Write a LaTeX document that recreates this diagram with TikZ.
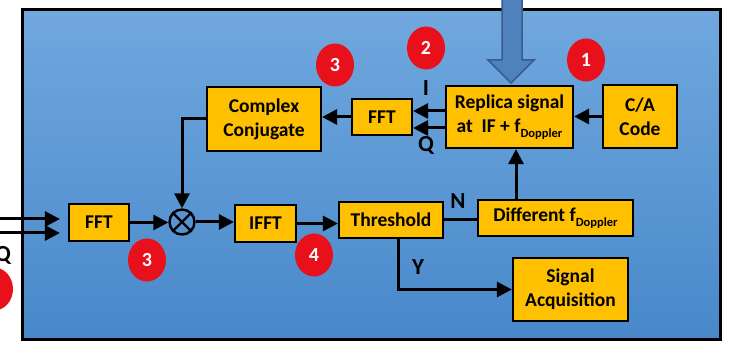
\documentclass[tikz,border=0pt]{standalone}
\usepackage{fontspec}
\setmainfont{Carlito}
\usetikzlibrary{arrows.meta,shapes.geometric}

\definecolor{boxyellow}{RGB}{255,192,0}
\definecolor{panelTop}{RGB}{112,168,222}
\definecolor{panelBot}{RGB}{72,136,202}
\definecolor{bigArrowFill}{RGB}{79,129,189}
\definecolor{bigArrowLine}{RGB}{56,93,138}
\definecolor{badgeRed}{RGB}{232,16,26}

\newcommand{\subD}{\raisebox{-5pt}{\fontsize{12.5}{12.5}\selectfont Doppler}}

\begin{document}
\begin{tikzpicture}[x=1pt,y=-1pt,
  box/.style={draw=black, line width=2.2pt, fill=boxyellow, inner sep=0pt,
    align=center, font=\fontsize{19.5}{24}\selectfont\bfseries},
  conn/.style={draw=black, line width=3pt},
  arr/.style={conn, -{Triangle[length=15pt,width=15pt]}},
  badge/.style={ellipse, fill=badgeRed, inner sep=0pt, minimum width=38pt,
    minimum height=43pt, text=white, font=\fontsize{20}{20}\selectfont\bfseries},
  lbl/.style={inner sep=0pt, font=\fontsize{23}{23}\selectfont\bfseries}]

% canvas
\fill[white] (0,0) rectangle (731,347);
\clip (0,0) rectangle (731,347);

% blue panel
\shade[top color=panelTop, bottom color=panelBot] (22,10) rectangle (720,340);
\draw[line width=3pt] (22,10) rectangle (720,340);

% incoming block arrow
\filldraw[fill=bigArrowFill, draw=bigArrowLine, line width=1.5pt]
  (502,-3) -- (522,-3) -- (522,60) -- (534,60) -- (511,83) -- (488,60) -- (502,60) -- cycle;

% blocks
\node[box, minimum width=114pt, minimum height=64pt] (cc)   at (264,119)   {Complex\\Conjugate};
\node[box, minimum width=60pt,  minimum height=36pt] (fft2) at (382,117)   {FFT};
\node[box, minimum width=127pt, minimum height=62pt] (rep)  at (509.5,117) {Replica signal\\at\ \ IF + f\subD};
\node[box, minimum width=74pt,  minimum height=63pt] (ca)   at (640,116.5) {C/A\\Code};
\node[box, minimum width=60pt,  minimum height=37pt] (fft1) at (99,222.5)  {FFT};
\node[box, minimum width=61pt,  minimum height=37pt] (ifft) at (265.5,223.5) {IFFT};
\node[box, minimum width=104pt, minimum height=36pt] (thr)  at (391,220)   {Threshold};
\node[box, minimum width=155pt, minimum height=36pt] (dif)  at (555.5,218) {Different f\subD};
\node[box, minimum width=115pt, minimum height=63pt] (sa)   at (570.5,289.5) {Signal\\Acquisition};

% multiplier
\node[circle, draw=black, line width=2.4pt, minimum size=25pt, inner sep=0pt] (mul) at (182,222) {};
\draw[line width=2.2pt] (mul.45) -- (mul.225) (mul.135) -- (mul.315);

% step badges
\node[badge] (b3a) at (335,65)  {3};
\node[badge] (b2)  at (426,48)  {2};
\node[badge] (b1)  at (586,60)  {1};
\node[badge] (b3b) at (147,260) {3};
\node[badge] (b4)  at (314,255) {4};
\node[badge] (b2l) at (-6,289)  {};

% helper coordinates
\coordinate (inI) at (0,219);
\coordinate (inQ) at (0,233);
\coordinate (fin) at ([xshift=-8pt]fft1.west);
\coordinate (dx)  at (516,0);
\coordinate (yx)  at (398,0);

% I/Q inputs
\draw[arr] (inI) -- (fin |- inI);
\draw[arr] (inQ) -- (fin |- inQ);
\node[lbl] (lq0) at (3,255) {Q};

% replica to FFT (I and Q)
\draw[arr] ([yshift=6pt]rep.west) -- ([yshift=6pt]rep.west -| fft2.east);
\draw[arr] ([yshift=-11pt]rep.west) -- ([yshift=-11pt]rep.west -| fft2.east);
\node[lbl] (li) at (426,88)  {I};
\node[lbl] (lq) at (426,145) {Q};

% main chain
\draw[arr] (ca.west) -- (ca.west -| rep.east);
\draw[arr] (fft2.west) -- (fft2.west -| cc.east);
\draw[arr] (cc.west) -| (mul.north);
\draw[arr] (fft1.east) -- (fft1.east -| mul.west);
\draw[arr] (mul.east) -- (mul.east -| ifft.west);
\draw[arr] (ifft.east) -- (ifft.east -| thr.west);
\draw[conn] (thr.east) -- (thr.east -| dif.west);
\draw[arr] (dif.north -| dx) -- (rep.south -| dx);
\draw[arr] (thr.south -| yx) |- (sa.west);
\node[lbl] (ln) at (458,201) {N};
\node[lbl] (ly) at (418,267) {Y};

\end{tikzpicture}
\end{document}
